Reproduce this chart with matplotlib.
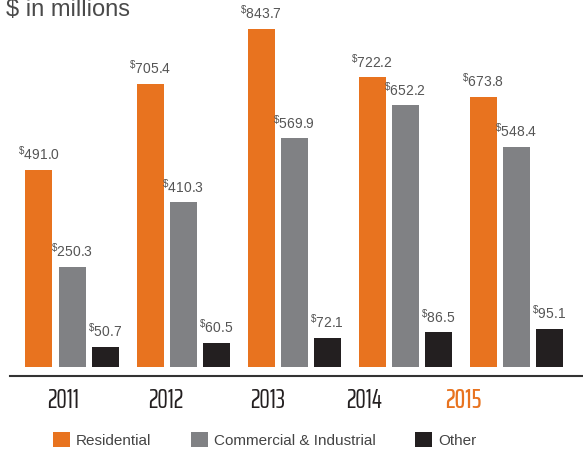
import matplotlib
matplotlib.use("Agg")
import matplotlib.pyplot as plt
import numpy as np

years = ["2011", "2012", "2013", "2014", "2015"]
residential = [491.0, 705.4, 843.7, 722.2, 673.8]
commercial = [250.3, 410.3, 569.9, 652.2, 548.4]
other = [50.7, 60.5, 72.1, 86.5, 95.1]
series_names = ["Residential", "Commercial & Industrial", "Other"]

colors = ["#E8731F", "#808184", "#231F20"]

plt.rcParams["font.family"] = ["Liberation Sans", "DejaVu Sans"]
plt.rcParams["mathtext.fontset"] = "custom"
plt.rcParams["mathtext.rm"] = "Liberation Sans"

fig = plt.figure(figsize=(5.83, 4.55), dpi=100)
W, H = 583, 455
# axes covers pixel x 10..583, y 0..376 (from top)
ax = fig.add_axes([10 / W, 1 - 376 / H, 573 / W, 376 / H])

x = np.arange(len(years))
width = 27 / 111
step = 33 / 111
for k, (vals, col) in enumerate(zip([residential, commercial, other], colors)):
    bars = ax.bar(x + (k - 1) * step, vals, width, color=col, label=series_names[k])
    for b, v in zip(bars, vals):
        ax.annotate(r"$\mathregular{^{\$}%.1f}$" % v,
                    (b.get_x() + b.get_width() / 2, b.get_height()),
                    xytext=(0, 5), textcoords="offset points",
                    ha="center", va="bottom", fontsize=10, color="#555555")

ax.set_xlim(-62 / 111, 511 / 111)
ax.set_ylim(-9 / 0.401, 367 / 0.401)
for s in ["top", "right", "left"]:
    ax.spines[s].set_visible(False)
ax.spines["bottom"].set_color("#333333")
ax.spines["bottom"].set_linewidth(1.5)
ax.set_yticks([])
ax.set_xticks([])

# year labels, condensed font
year_px = [63, 166, 268, 364, 463]
for i, (yr, px) in enumerate(zip(years, year_px)):
    last = i == len(years) - 1
    fig.text(px / W, 1 - 401 / H, yr, ha="center", va="center",
             family=["Saira ExtraCondensed", "DejaVu Sans"], fontsize=19,
             color="#E8731F" if last else "#231F20",
             fontweight=500 if last else 400)

fig.text(6 / W, 1 - 16 / H, "$ in millions", ha="left", va="baseline",
         fontsize=17, color="#4a4a4a")

fig.legend(loc="center left", bbox_to_anchor=(53 / W, 1 - 440 / H), ncol=3,
           frameon=False, fontsize=11, handlelength=1.1, handleheight=1.1,
           handletextpad=0.4, columnspacing=2.6, borderpad=0,
           borderaxespad=0, labelcolor="#444444")

fig.savefig("out.png", dpi=100)
